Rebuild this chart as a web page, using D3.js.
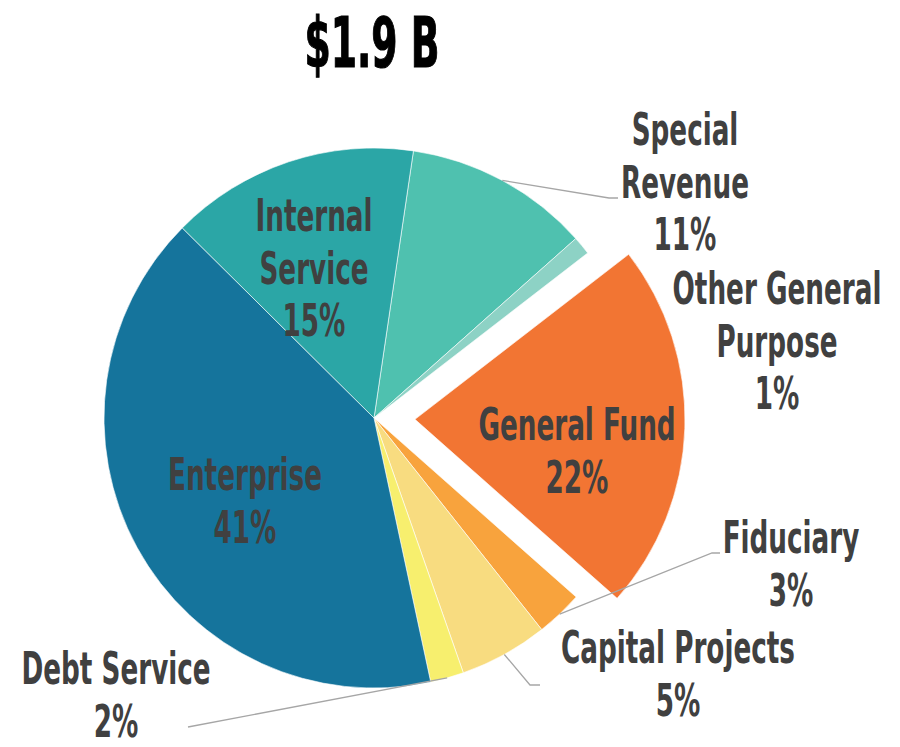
<!DOCTYPE html>
<html><head><meta charset="utf-8">
<script src="https://cdn.jsdelivr.net/npm/d3@7"></script>
<style>body{margin:0;background:#fff}svg{display:block}</style>
</head><body><svg id="c" width="900" height="747"></svg>
<script>
// ---- data ----
const title = "$1.9 B";
const categories = ["Special Revenue","Other General Purpose","General Fund","Fiduciary","Capital Projects","Debt Service","Enterprise","Internal Service"];
const labelLines = [["Special","Revenue"],["Other General","Purpose"],["General Fund"],["Fiduciary"],["Capital Projects"],["Debt Service"],["Enterprise"],["Internal","Service"]];
const shares = [11.1, 1.1, 22.0, 2.8, 5.3, 2.0, 40.8, 14.9];
const colors = ["#4fc1af","#8dd2c5","#f27533","#f8a33d","#f8dc80","#f7ef6e","#15749c","#2ba6a6"];
const exploded = ["General Fund"];

// ---- layout ----
const cx = 374, cy = 418, R = 270, explodeOffset = 41;
const startDeg = 8.4;
const fontFamily = "'Liberation Sans Narrow','DejaVu Sans Condensed','Liberation Sans',Arial,sans-serif";
const labelPos = { // center x, first baseline y
  "Special Revenue":[685,145], "Other General Purpose":[777,304], "General Fund":[577,440],
  "Fiduciary":[791,553], "Capital Projects":[678,663], "Debt Service":[116,684],
  "Enterprise":[245,490], "Internal Service":[314,231]
};
const leaders = { // bend point(s) after slice edge
  "Special Revenue":[[609,198],[618,198]],
  "Fiduciary":[[712,553],[720,553]],
  "Capital Projects":[[530,685],[540,685]],
  "Debt Service":[[188,727]]
};
const lineH = 52.5;

const svg = d3.select("#c");
const data = categories.map((c,i)=>({name:c, value:shares[i], color:colors[i], lines:labelLines[i]}));

const pie = d3.pie().value(d=>d.value).sort(null)
  .startAngle(startDeg*Math.PI/180).endAngle(startDeg*Math.PI/180 + 2*Math.PI);
const arcs = pie(data);
const arc = d3.arc().innerRadius(0).outerRadius(R);

const g = svg.append("g").attr("transform",`translate(${cx},${cy})`);
g.selectAll("path").data(arcs).join("path")
  .attr("d",arc)
  .attr("fill",d=>d.data.color)
  .attr("stroke","#ffffff").attr("stroke-width",0.6)
  .attr("transform",d=>{
    if(!exploded.includes(d.data.name)) return null;
    const m=(d.startAngle+d.endAngle)/2;
    return `translate(${explodeOffset*Math.sin(m)},${-explodeOffset*Math.cos(m)})`;
  });

// leader lines
arcs.forEach(d=>{
  const pts = leaders[d.data.name];
  if(!pts) return;
  const m=(d.startAngle+d.endAngle)/2;
  const start=[cx+R*Math.sin(m), cy-R*Math.cos(m)];
  svg.append("polyline")
    .attr("points",[start,...pts].map(p=>p.join(",")).join(" "))
    .attr("fill","none").attr("stroke","#a6a6a6").attr("stroke-width",1.3);
});

// measure horizontal compression to emulate condensed typeface
const probe = svg.append("text").attr("font-family",fontFamily).attr("font-weight","bold")
  .attr("font-size",45).text("Other General");
const sx = 209/probe.node().getComputedTextLength();
probe.remove();

arcs.forEach(d=>{
  const [x,y]=labelPos[d.data.name];
  const lines=[...d.data.lines, Math.round(d.data.value)+"%"];
  lines.forEach((t,i)=>{
    svg.append("text")
      .attr("transform",`translate(${x},${y+i*lineH}) scale(${sx},1)`)
      .attr("text-anchor","middle")
      .attr("font-family",fontFamily).attr("font-weight","bold").attr("font-size",45)
      .attr("fill","#404040").text(t);
  });
});

// title
const tt = svg.append("text").attr("font-family",fontFamily).attr("font-weight","bold")
  .attr("font-size",69).attr("fill","#000").attr("text-anchor","middle")
  .attr("stroke","#000").attr("stroke-width",1.2).text(title);
const tsx = 135/tt.node().getComputedTextLength();
tt.attr("transform",`translate(372,67) scale(${tsx},1)`);
</script></body></html>
